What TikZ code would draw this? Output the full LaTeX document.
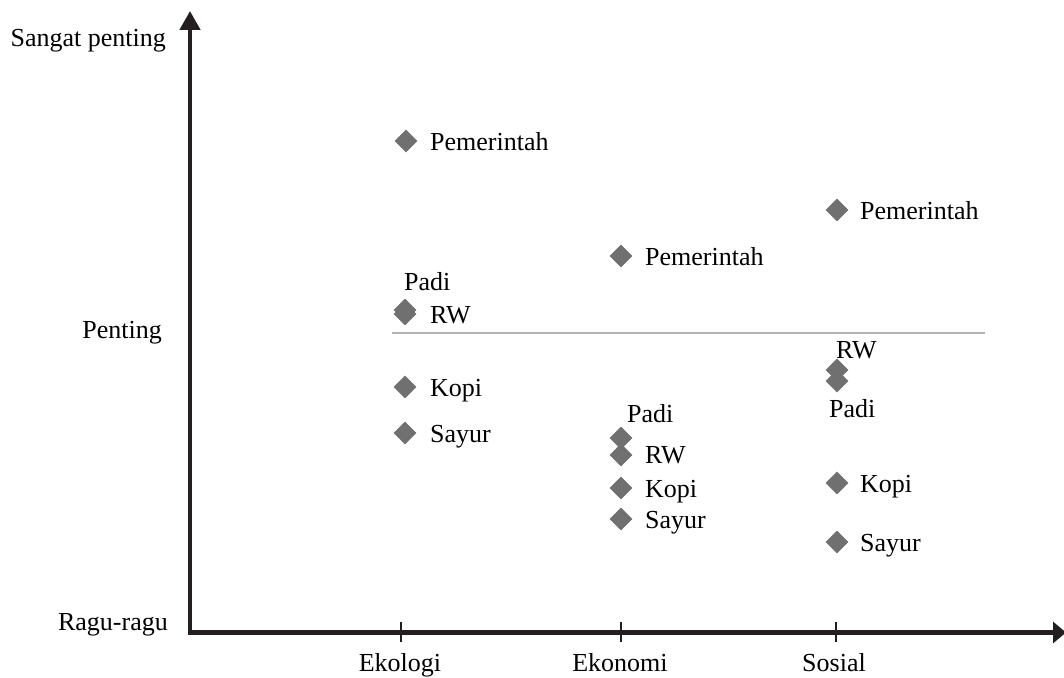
\documentclass[tikz,border=0pt]{standalone}
\usepackage{fontspec}
\setmainfont{Liberation Serif}
\usetikzlibrary{arrows.meta,shapes.geometric}
\definecolor{mark}{HTML}{707070}
\definecolor{axis}{HTML}{231F20}
\definecolor{ref}{HTML}{B4B4B4}
\begin{document}
\begin{tikzpicture}[x=1pt,y=-1pt,
  every node/.style={font=\fontsize{26}{30}\selectfont, inner sep=0pt},
  pt/.style={diamond, fill=mark, draw=none, minimum width=23pt, minimum height=23pt, inner sep=0pt},
  lbl/.style={anchor=base west},
  axlbl/.style={anchor=base east},
  catlbl/.style={anchor=base},
  tickline/.style={draw=axis, line width=1.5pt}]
\useasboundingbox (0,0) rectangle (1064,677);
% axes
\coordinate (O) at (190,632.5);
\coordinate (ytop) at (190,11);
\coordinate (xend) at (1066,632.5);
\draw[axis, line width=4.5pt, {Triangle[length=19pt,width=20pt]}-{Triangle[length=13pt,width=21pt]}] (ytop) -- (O) -- (xend);
% reference line
\coordinate (rl) at (392,333);
\coordinate (rr) at (985,333);
\draw[ref, line width=1.2pt] (rl) -- (rr);
% ticks
\foreach \n/\x in {t1/401,t2/621,t3/836}{
  \coordinate (\n a) at (\x,622);
  \coordinate (\n b) at (\x,642);
  \draw[tickline] (\n a) -- (\n b);
}
% axis labels
\node[axlbl] (ysp) at (166,46) {Sangat penting};
\node[axlbl] (yp) at (162,338) {Penting};
\node[axlbl] (yr) at (168,630) {Ragu-ragu};
\node[catlbl] (cek) at (400,671) {Ekologi};
\node[catlbl] (cen) at (620,671) {Ekonomi};
\node[catlbl] (cso) at (834,671) {Sosial};
% Ekologi
\node[pt] (e1) at (406,141) {};
\node[lbl] (e1l) at (430,150) {Pemerintah};
\node[pt] (e2) at (405,310) {};
\node[pt] (e3) at (405,314) {};
\node[lbl] (e2l) at (404,290) {Padi};
\node[lbl] (e3l) at (430,323) {RW};
\node[pt] (e4) at (405,387) {};
\node[lbl] (e4l) at (430,396) {Kopi};
\node[pt] (e5) at (405,433) {};
\node[lbl] (e5l) at (430,442) {Sayur};
% Ekonomi
\node[pt] (k1) at (621,256) {};
\node[lbl] (k1l) at (645,265) {Pemerintah};
\node[pt] (k2) at (621,438) {};
\node[lbl] (k2l) at (627,422) {Padi};
\node[pt] (k3) at (621,455) {};
\node[lbl] (k3l) at (645,463) {RW};
\node[pt] (k4) at (621,488) {};
\node[lbl] (k4l) at (645,497) {Kopi};
\node[pt] (k5) at (621,519) {};
\node[lbl] (k5l) at (645,528) {Sayur};
% Sosial
\node[pt] (s1) at (837,210) {};
\node[lbl] (s1l) at (860,219) {Pemerintah};
\node[pt] (s2) at (837,370) {};
\node[lbl] (s2l) at (836,358) {RW};
\node[pt] (s3) at (837,381) {};
\node[lbl] (s3l) at (829,417) {Padi};
\node[pt] (s4) at (837,483) {};
\node[lbl] (s4l) at (860,492) {Kopi};
\node[pt] (s5) at (837,542) {};
\node[lbl] (s5l) at (860,551) {Sayur};
\end{tikzpicture}
\end{document}
